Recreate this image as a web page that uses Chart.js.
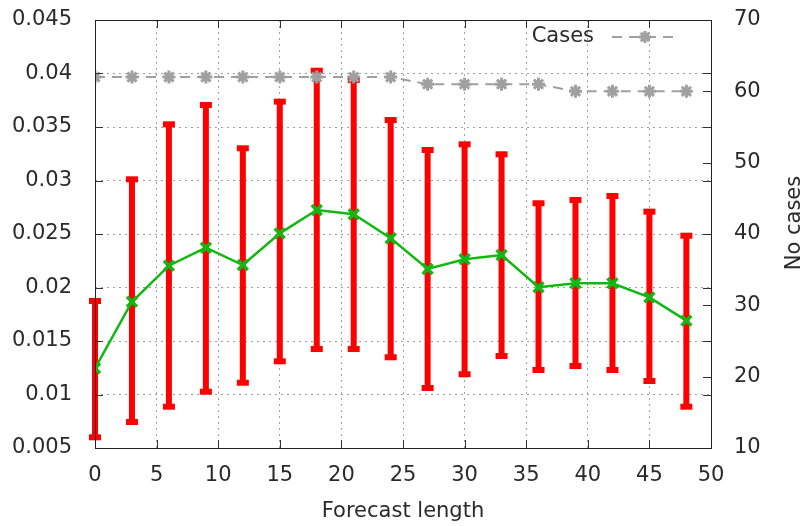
<!DOCTYPE html>
<html>
<head>
<meta charset="utf-8">
<script src="https://cdn.jsdelivr.net/npm/chart.js@4/dist/chart.umd.min.js"></script>
<style>
  html, body { margin: 0; padding: 0; background: #fff; }
  #wrap { width: 810px; height: 526px; position: relative; }
</style>
</head>
<body>
<div id="wrap"><canvas id="errChart" width="810" height="526"></canvas></div>
<script>
// データ
const leads = [0, 3, 6, 9, 12, 15, 18, 21, 24, 27, 30, 33, 36, 39, 42, 45, 48];
const meanErr = [0.01245, 0.01867, 0.02204, 0.02372, 0.0221, 0.02506, 0.02724, 0.02684, 0.0246,
                 0.02173, 0.02264, 0.02304, 0.02002, 0.0204, 0.0204, 0.01908, 0.0169];
const upperErr = [0.01874, 0.03011, 0.03525, 0.03706, 0.03301, 0.03737, 0.04026, 0.03939, 0.03565,
                  0.03285, 0.03338, 0.03245, 0.02787, 0.02818, 0.02855, 0.02709, 0.02484];
const lowerErr = [0.0060, 0.00743, 0.00886, 0.01026, 0.0111, 0.0131, 0.01425, 0.01425, 0.01348,
                  0.01061, 0.01189, 0.0136, 0.01229, 0.01266, 0.01229, 0.01126, 0.00886];
const cases = [62, 62, 62, 62, 62, 62, 62, 62, 62, 61, 61, 61, 61, 60, 60, 60, 60];

const xTickValues = [0, 5, 10, 15, 20, 25, 30, 35, 40, 45, 50];
const yTickValues = [0.005, 0.01, 0.015, 0.02, 0.025, 0.03, 0.035, 0.04, 0.045];
const yTickLabels = ['0.005', '0.01', '0.015', '0.02', '0.025', '0.03', '0.035', '0.04', '0.045'];
const y2TickValues = [10, 20, 30, 40, 50, 60, 70];

const FONT = "'DejaVu Sans', sans-serif";
const TXT = '#2a2a2a';
const RED = '#ff0000';
const GREEN = '#12b812';
const GRAY = '#a0a0a0';

// 星形マーカー（凡例用）
function drawStar(ctx, cx, cy, r) {
    ctx.beginPath();
    ctx.moveTo(cx - r, cy); ctx.lineTo(cx + r, cy);
    ctx.moveTo(cx, cy - r); ctx.lineTo(cx, cy + r);
    ctx.moveTo(cx - r * 0.7, cy - r * 0.7); ctx.lineTo(cx + r * 0.7, cy + r * 0.7);
    ctx.moveTo(cx - r * 0.7, cy + r * 0.7); ctx.lineTo(cx + r * 0.7, cy - r * 0.7);
    ctx.stroke();
}

// エラーバー・枠・凡例などの描画
const decor = {
    id: 'decor',
    beforeDatasetsDraw(chart) {
        const ctx = chart.ctx;
        const xs = chart.scales.x, ys = chart.scales.y;
        ctx.save();
        ctx.fillStyle = RED;
        leads.forEach((l, i) => {
            const px = xs.getPixelForValue(l);
            const top = ys.getPixelForValue(upperErr[i]);
            const bot = ys.getPixelForValue(lowerErr[i]);
            ctx.fillRect(px - 3, top, 6, bot - top);
            ctx.fillRect(px - 6, top - 3, 12, 6);
            ctx.fillRect(px - 6, bot - 3, 12, 6);
        });
        ctx.restore();
    },
    afterDraw(chart) {
        const ctx = chart.ctx;
        const a = chart.chartArea;
        const xs = chart.scales.x, ys = chart.scales.y, y2 = chart.scales.y2;
        ctx.save();
        // 内向きの目盛り
        ctx.strokeStyle = '#333';
        ctx.lineWidth = 1;
        ctx.beginPath();
        yTickValues.forEach(v => {
            const py = Math.round(ys.getPixelForValue(v)) + 0.5;
            ctx.moveTo(a.left, py); ctx.lineTo(a.left + 8, py);
            ctx.moveTo(a.right, py); ctx.lineTo(a.right - 8, py);
        });
        y2TickValues.forEach(v => {
            const py = Math.round(y2.getPixelForValue(v)) + 0.5;
            ctx.moveTo(a.right, py); ctx.lineTo(a.right - 8, py);
        });
        xTickValues.forEach(v => {
            const px = Math.round(xs.getPixelForValue(v)) + 0.5;
            ctx.moveTo(px, a.bottom); ctx.lineTo(px, a.bottom - 8);
            ctx.moveTo(px, a.top); ctx.lineTo(px, a.top + 8);
        });
        ctx.stroke();
        // 枠
        ctx.strokeStyle = '#222';
        ctx.strokeRect(Math.round(a.left) + 0.5, Math.round(a.top) + 0.5,
                       Math.round(a.right - a.left), Math.round(a.bottom - a.top));

        // 凡例
        ctx.font = '21px ' + FONT;
        ctx.fillStyle = TXT;
        ctx.textAlign = 'right';
        ctx.textBaseline = 'middle';
        ctx.fillText('Cases', 594, 37);
        ctx.strokeStyle = GRAY;
        ctx.lineWidth = 2;
        ctx.setLineDash([10, 7]);
        ctx.beginPath();
        ctx.moveTo(612, 37); ctx.lineTo(680, 37);
        ctx.stroke();
        ctx.setLineDash([]);
        ctx.lineWidth = 3;
        drawStar(ctx, 645, 37, 6);

        // 右軸タイトル
        ctx.fillStyle = TXT;
        ctx.translate(795, (a.top + a.bottom) / 2 - 11);
        ctx.rotate(-Math.PI / 2);
        ctx.textAlign = 'center';
        ctx.fillText('No cases', 0, 0);
        ctx.restore();
    }
};

const tickFont = { family: FONT, size: 21 };

// 軸サイズを固定
function fixV(w) {
    return axis => { axis.width = w; axis.paddingTop = 0; axis.paddingBottom = 0; };
}

const ctx = document.getElementById('errChart').getContext('2d');
new Chart(ctx, {
    type: 'line',
    data: {
        datasets: [{
            label: 'Error',
            data: leads.map((l, i) => ({ x: l, y: meanErr[i] })),
            yAxisID: 'y',
            borderColor: GREEN,
            borderWidth: 2.5,
            pointStyle: 'crossRot',
            pointRadius: 7,
            pointBorderWidth: 3.5,
            pointBorderColor: GREEN,
            tension: 0
        }, {
            label: 'Cases',
            data: leads.map((l, i) => ({ x: l, y: cases[i] })),
            yAxisID: 'y2',
            borderColor: GRAY,
            borderWidth: 2,
            borderDash: [10, 7],
            pointStyle: 'star',
            pointRadius: 6.5,
            pointBorderWidth: 3,
            pointBorderColor: GRAY,
            pointBackgroundColor: GRAY,
            tension: 0
        }]
    },
    options: {
        responsive: false,
        animation: false,
        maintainAspectRatio: false,
        layout: { padding: { top: 20, left: 0, right: 0, bottom: 0 } },
        plugins: { legend: { display: false }, tooltip: { enabled: false } },
        scales: {
            x: {
                type: 'linear',
                min: 0, max: 50,
                afterBuildTicks: axis => { axis.ticks = xTickValues.map(v => ({ value: v })); },
                afterFit: axis => { axis.height = 78; axis.paddingLeft = 0; axis.paddingRight = 0; },
                grid: { color: GRAY, lineWidth: 1, drawTicks: false },
                border: { display: false, dash: [2, 4] },
                ticks: { color: TXT, font: tickFont, padding: 15, maxRotation: 0, autoSkip: false },
                title: { display: true, text: 'Forecast length', color: TXT,
                         font: tickFont, padding: { top: 0, bottom: 2 } }
            },
            y: {
                type: 'linear',
                position: 'left',
                min: 0.005, max: 0.045,
                afterBuildTicks: axis => { axis.ticks = yTickValues.map(v => ({ value: v })); },
                afterFit: fixV(95),
                grid: { color: GRAY, lineWidth: 1, drawTicks: false },
                border: { display: false, dash: [2, 4] },
                ticks: { color: TXT, font: tickFont, padding: 23, autoSkip: false,
                         callback: (v, i) => yTickLabels[i] }
            },
            y2: {
                type: 'linear',
                position: 'right',
                min: 10, max: 70,
                afterBuildTicks: axis => { axis.ticks = y2TickValues.map(v => ({ value: v })); },
                afterFit: fixV(99),
                grid: { display: false, drawTicks: false },
                border: { display: false },
                ticks: { color: TXT, font: tickFont, padding: 23, autoSkip: false }
            }
        }
    },
    plugins: [decor]
});
</script>
</body>
</html>
